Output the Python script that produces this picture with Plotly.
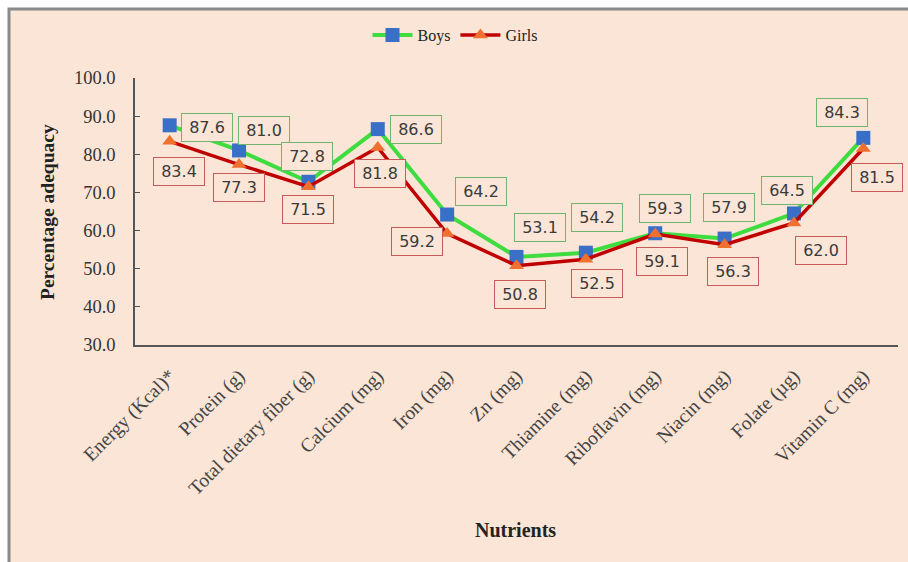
import plotly.graph_objects as go

categories = ["Energy (Kcal)*", "Protein (g)", "Total dietary fiber (g)", "Calcium (mg)",
              "Iron (mg)", "Zn (mg)", "Thiamine (mg)", "Riboflavin (mg)", "Niacin (mg)",
              "Folate (µg)", "Vitamin C (mg)"]
boys = [87.6, 81.0, 72.8, 86.6, 64.2, 53.1, 54.2, 59.3, 57.9, 64.5, 84.3]
girls = [83.4, 77.3, 71.5, 81.8, 59.2, 50.8, 52.5, 59.1, 56.3, 62.0, 81.5]
y_ticks = [30, 40, 50, 60, 70, 80, 90, 100]

# label offsets (pixels) - styling only
boys_dx = [37, 25, -1, 38, 34, 23, 11, 10, 4, -7, -21]
boys_dy = [-2, 20, 25, 0, 23, 29, 35, 25, 31, 23, 25]
girls_dx = [9, 0, 0, 2, -30, 3, 11, 7, 8, 27, 14]
girls_dy = [-30, -23, -23, -26, -8, -29, -24, -27, -27, -28, -29]

W, H = 908, 562
ML, MR, MT, MB = 135, 10, 78, 217
PW, PH = W - ML - MR, H - MT - MB
PEACH = "#FBE5D6"
SERIF = "Liberation Serif"

def px_x(p):
    return (p - ML) / PW

def px_y(p):
    return (MT + PH - p) / PH

fig = go.Figure()
fig.add_trace(go.Scatter(
    x=categories, y=boys, name="Boys", mode="lines+markers",
    line=dict(color="#3EDC3E", width=4),
    marker=dict(symbol="square", size=14, color="#3A6FC8"),
))
fig.add_trace(go.Scatter(
    x=categories, y=girls, name="Girls", mode="lines+markers",
    line=dict(color="#C00000", width=3.5),
    marker=dict(symbol="triangle-up", size=13, color="#F07030"),
))

annotations = []
for c, v, dx, dy in zip(categories, boys, boys_dx, boys_dy):
    annotations.append(dict(
        x=c, y=v, xref="x", yref="y", text=f"{v:.1f}", showarrow=False,
        xshift=dx, yshift=dy, bordercolor="#6DB46D", borderwidth=1, borderpad=4,
        bgcolor=PEACH, width=42,
        font=dict(family="DejaVu Sans", size=16, color="#3A3A3A"),
    ))
for c, v, dx, dy in zip(categories, girls, girls_dx, girls_dy):
    annotations.append(dict(
        x=c, y=v, xref="x", yref="y", text=f"{v:.1f}", showarrow=False,
        xshift=dx, yshift=dy, bordercolor="#C85A5A", borderwidth=1, borderpad=4,
        bgcolor=PEACH, width=42,
        font=dict(family="DejaVu Sans", size=16, color="#3A3A3A"),
    ))
annotations.append(dict(
    x=px_x(515), y=px_y(530), xref="paper", yref="paper", text="<b>Nutrients</b>",
    showarrow=False, font=dict(family=SERIF, size=20, color="#222"),
    xanchor="center", yanchor="middle",
))
annotations.append(dict(
    x=px_x(47), y=px_y(212), xref="paper", yref="paper", text="<b>Percentage adequacy</b>",
    showarrow=False, textangle=-90, font=dict(family=SERIF, size=19.5, color="#222"),
    xanchor="center", yanchor="middle",
))

shapes = [dict(
    type="rect", xref="paper", yref="paper", layer="below",
    x0=px_x(9), x1=px_x(W + 10), y0=px_y(H + 10), y1=px_y(9),
    fillcolor=PEACH, line=dict(color="#8A8A8A", width=3),
)]

fig.update_layout(
    width=W, height=H,
    margin=dict(l=ML, r=MR, t=MT, b=MB),
    paper_bgcolor="white", plot_bgcolor=PEACH,
    showlegend=True,
    legend=dict(orientation="h", x=px_x(455), y=px_y(35), xanchor="center", yanchor="middle",
                font=dict(family=SERIF, size=16, color="#222"), bgcolor="rgba(0,0,0,0)",
                itemwidth=40),
    annotations=annotations, shapes=shapes,
    font=dict(family=SERIF),
)
fig.update_yaxes(
    range=[30, 100], tickvals=y_ticks, tickformat=".1f",
    showgrid=False, zeroline=False, showline=True, linecolor="#555", linewidth=1.5,
    ticks="inside", ticklen=5, tickcolor="#555", ticklabelstandoff=14,
    tickfont=dict(family=SERIF, size=18.5, color="#333"),
)
fig.update_xaxes(
    range=[-0.5, 10.5], showgrid=False, zeroline=False, showline=True,
    linecolor="#555", linewidth=1.5, ticks="", tickangle=-45,
    tickfont=dict(family=SERIF, size=19.5, color="#444"), ticklabelstandoff=10,
)

fig.write_html("out.html")
